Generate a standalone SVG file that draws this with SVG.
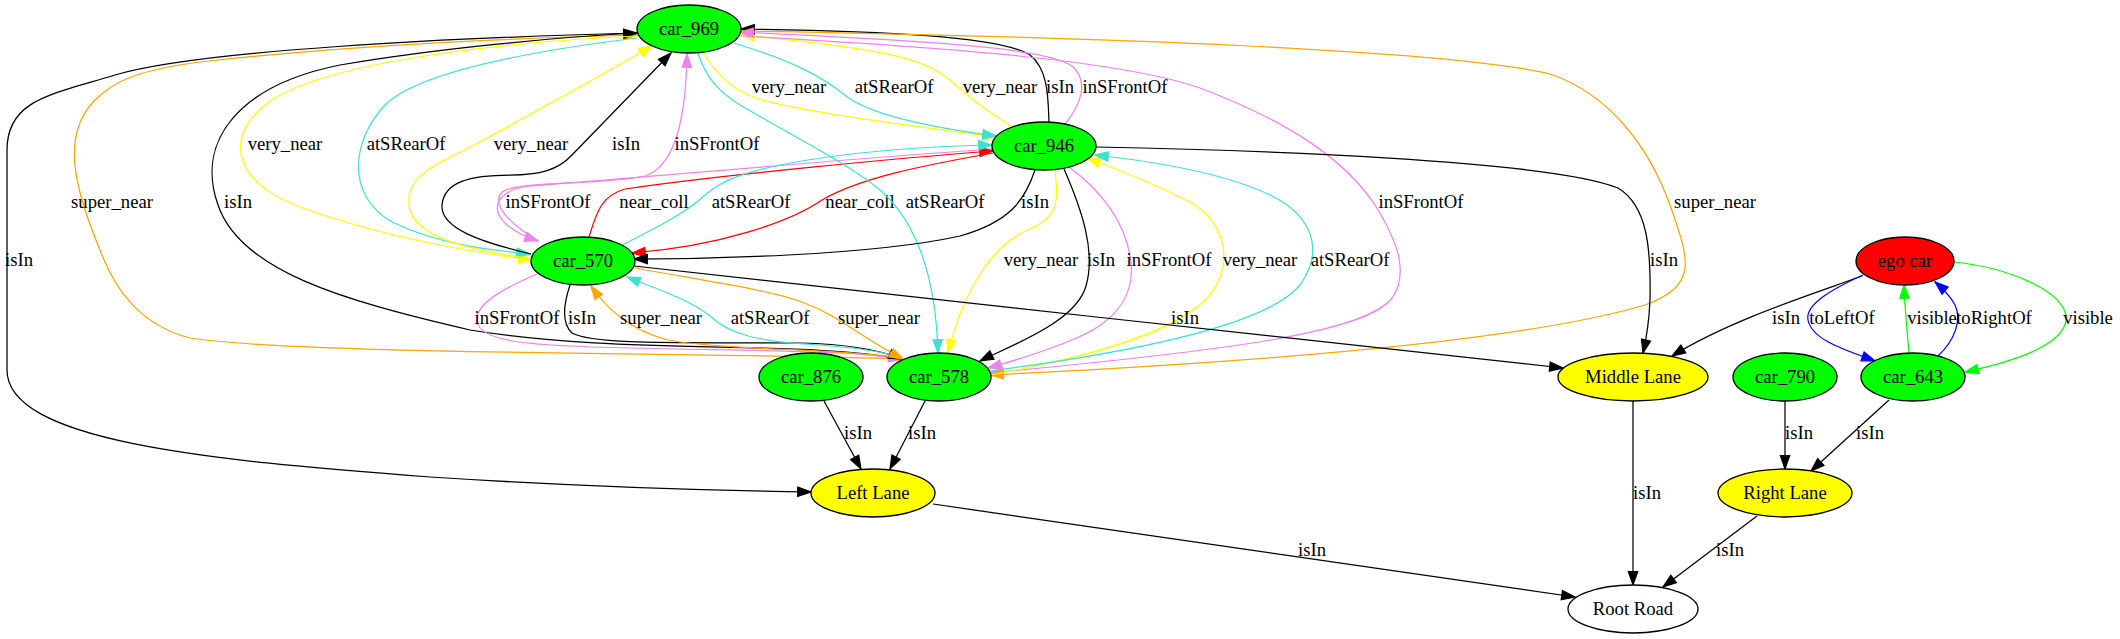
<svg xmlns="http://www.w3.org/2000/svg" width="2120" height="639" viewBox="0 0 2120 639">
<style>
.e{fill:none;stroke-width:1.25}
.k{stroke:#000}.y{stroke:#ffff00}.c{stroke:#40e0d0}.v{stroke:#ee82ee}.r{stroke:#ff0000}.o{stroke:#ffa500}.b{stroke:#0000ff}.g{stroke:#00ff00}
.k{marker-end:url(#mk)}.y{marker-end:url(#my)}.c{marker-end:url(#mc)}.v{marker-end:url(#mv)}.r{marker-end:url(#mr)}.o{marker-end:url(#mo)}.b{marker-end:url(#mb)}.g{marker-end:url(#mg)}
text{font-family:"Liberation Serif","Times New Roman",serif;font-size:18.67px;text-anchor:middle;fill:#000}
.n{stroke:#000;stroke-width:1.3}
</style>
<defs>
<marker id="mk" viewBox="0 0 14 10" refX="13.3" refY="4.67" markerWidth="14" markerHeight="10" markerUnits="userSpaceOnUse" orient="auto" overflow="visible"><path d="M0,0 L13.3,4.67 L0,9.33 z" fill="#000" stroke="#000" stroke-width="1.2"/></marker>
<marker id="my" viewBox="0 0 14 10" refX="13.3" refY="4.67" markerWidth="14" markerHeight="10" markerUnits="userSpaceOnUse" orient="auto" overflow="visible"><path d="M0,0 L13.3,4.67 L0,9.33 z" fill="#ffff00" stroke="#ffff00" stroke-width="1.2"/></marker>
<marker id="mc" viewBox="0 0 14 10" refX="13.3" refY="4.67" markerWidth="14" markerHeight="10" markerUnits="userSpaceOnUse" orient="auto" overflow="visible"><path d="M0,0 L13.3,4.67 L0,9.33 z" fill="#40e0d0" stroke="#40e0d0" stroke-width="1.2"/></marker>
<marker id="mv" viewBox="0 0 14 10" refX="13.3" refY="4.67" markerWidth="14" markerHeight="10" markerUnits="userSpaceOnUse" orient="auto" overflow="visible"><path d="M0,0 L13.3,4.67 L0,9.33 z" fill="#ee82ee" stroke="#ee82ee" stroke-width="1.2"/></marker>
<marker id="mr" viewBox="0 0 14 10" refX="13.3" refY="4.67" markerWidth="14" markerHeight="10" markerUnits="userSpaceOnUse" orient="auto" overflow="visible"><path d="M0,0 L13.3,4.67 L0,9.33 z" fill="#ff0000" stroke="#ff0000" stroke-width="1.2"/></marker>
<marker id="mo" viewBox="0 0 14 10" refX="13.3" refY="4.67" markerWidth="14" markerHeight="10" markerUnits="userSpaceOnUse" orient="auto" overflow="visible"><path d="M0,0 L13.3,4.67 L0,9.33 z" fill="#ffa500" stroke="#ffa500" stroke-width="1.2"/></marker>
<marker id="mb" viewBox="0 0 14 10" refX="13.3" refY="4.67" markerWidth="14" markerHeight="10" markerUnits="userSpaceOnUse" orient="auto" overflow="visible"><path d="M0,0 L13.3,4.67 L0,9.33 z" fill="#0000ff" stroke="#0000ff" stroke-width="1.2"/></marker>
<marker id="mg" viewBox="0 0 14 10" refX="13.3" refY="4.67" markerWidth="14" markerHeight="10" markerUnits="userSpaceOnUse" orient="auto" overflow="visible"><path d="M0,0 L13.3,4.67 L0,9.33 z" fill="#00ff00" stroke="#00ff00" stroke-width="1.2"/></marker>
</defs>
<rect width="2120" height="639" fill="#fff"/>
<g id="connectors">
<g><path class="e k" d="M637,33 C450,38 200,50 115,75 C50,95 7,100 7,150 L7,370 C7,440 200,460 430,477 C600,488 740,491 811,492"/><text x="19" y="265.5">isIn</text></g>
<g><path class="e o" d="M902,359 C700,352 300,355 190,338 C140,325 115,290 100,250 C75,190 60,135 95,100 C115,80 140,70 200,62 C350,45 520,38 637,35"/><text x="112" y="207.5">super_near</text></g>
<g><path class="e k" d="M902,359 C800,340 620,355 470,330 C340,300 240,270 218,205 C195,140 240,85 340,65 C440,48 560,37 637,33"/><text x="238" y="207.5">isIn</text></g>
<g><path class="e y" d="M637,36 C500,42 330,62 272,100 C225,132 228,180 300,207 C380,236 470,252 532,260"/><text x="285" y="150">very_near</text></g>
<g><path class="e c" d="M637,38 C540,50 420,70 385,105 C352,140 345,195 392,222 C440,245 490,250 530,254"/><text x="406" y="150">atSRearOf</text></g>
<g><path class="e y" d="M532,259 C470,250 418,238 410,210 C402,180 432,165 465,150 C520,120 590,82 652,46"/><text x="531" y="150">very_near</text></g>
<g><path class="e k" d="M531,254 C480,242 440,228 442,205 C444,182 470,175 510,175 C540,175 558,170 572,155 L671,53"/><text x="626" y="150">isIn</text></g>
<g><path class="e v" d="M538,241 C512,225 490,205 502,192 C520,180 600,186 645,176 C678,165 686,110 687,54"/><text x="717" y="150">inSFrontOf</text></g>
<g><path class="e v" d="M993,149 C830,160 640,178 530,186 C488,191 482,222 538,241"/><text x="548" y="207.5">inSFrontOf</text></g>
<g><path class="e r" d="M589,237 C596,215 600,196 625,189 C720,175 900,158 993,151"/><text x="654" y="207.5">near_coll</text></g>
<g><path class="e r" d="M993,153 C920,166 860,178 822,200 C790,222 720,246 632,253"/><text x="860" y="207.5">near_coll</text></g>
<g><path class="e c" d="M622,245 C660,226 690,210 705,195 C722,180 745,172 785,164 C860,150 940,146 992,145"/><text x="751" y="207.5">atSRearOf</text></g>
<g><path class="e y" d="M703,53 C718,76 735,92 762,100 C825,116 930,128 996,137"/><text x="789" y="92.5">very_near</text></g>
<g><path class="e c" d="M734,43 C790,60 822,76 846,96 C872,116 935,128 996,136"/><text x="894" y="92.5">atSRearOf</text></g>
<g><path class="e y" d="M1011,126 C985,110 966,95 950,80 C925,58 880,48 741,35"/><text x="1000" y="92.5">very_near</text></g>
<g><path class="e k" d="M1049,122 C1048,100 1049,70 1030,55 C1000,36 880,31 741,29"/><text x="1060" y="92.5">isIn</text></g>
<g><path class="e v" d="M1066,123 C1080,105 1090,82 1072,66 C1045,46 900,40 740,32"/><text x="1125" y="92.5">inSFrontOf</text></g>
<g><path class="e c" d="M698,53 C705,75 716,90 740,105 C800,140 850,165 880,190 C920,225 936,282 938,353"/><text x="945" y="207.5">atSRearOf</text></g>
<g><path class="e k" d="M1035,170 C1025,200 1010,222 960,236 C870,256 700,259 634,259"/><text x="1035" y="207.5">isIn</text></g>
<g><path class="e v" d="M741,36 C950,48 1120,60 1200,88 C1290,122 1345,160 1375,205 C1400,245 1408,275 1392,298 C1365,333 1230,350 990,373"/><text x="1421" y="207.5">inSFrontOf</text></g>
<g><path class="e o" d="M741,31 C1100,37 1450,50 1550,74 C1612,95 1650,150 1670,205 C1690,262 1698,285 1645,305 C1510,345 1200,365 990,375"/><text x="1715" y="207.5">super_near</text></g>
<g><path class="e y" d="M1055,170 C1058,200 1060,216 1030,229 C995,243 965,285 948,353"/><text x="1041" y="265.5">very_near</text></g>
<g><path class="e k" d="M1064,169 C1082,210 1096,252 1086,286 C1076,322 1012,345 980,361"/><text x="1101" y="265.5">isIn</text></g>
<g><path class="e v" d="M1069,167 C1100,190 1126,222 1131,262 C1135,300 1110,325 1072,340 C1040,353 1010,362 988,368"/><text x="1169" y="265.5">inSFrontOf</text></g>
<g><path class="e y" d="M990,375 C1100,355 1180,330 1210,295 C1235,262 1225,222 1190,202 C1150,182 1120,170 1087,158"/><text x="1260" y="265.5">very_near</text></g>
<g><path class="e c" d="M990,371 C1150,350 1270,322 1300,285 C1325,250 1312,215 1270,195 C1222,172 1150,161 1095,155"/><text x="1350" y="265.5">atSRearOf</text></g>
<g><path class="e k" d="M1096,147 C1250,150 1550,160 1618,188 C1648,206 1651,250 1650,300 C1649,325 1646,340 1643,353"/><text x="1664" y="265.5">isIn</text></g>
<g><path class="e v" d="M537,274 C500,290 474,305 477,322 C481,342 530,346 630,348 C760,351 860,350 902,360"/><text x="517" y="323.5">inSFrontOf</text></g>
<g><path class="e k" d="M570,285 C565,300 560,322 572,333 C595,346 700,342 800,343 C850,344 880,350 902,359"/><text x="582" y="323.5">isIn</text></g>
<g><path class="e o" d="M902,358 C850,349 720,350 668,340 C630,330 608,310 591,286"/><text x="661" y="323.5">super_near</text></g>
<g><path class="e c" d="M902,358 C885,352 860,348 820,345 C760,342 730,335 710,316 C690,300 660,290 627,277"/><text x="770" y="323.5">atSRearOf</text></g>
<g><path class="e o" d="M635,268 C700,280 770,290 802,302 C840,316 862,338 903,359"/><text x="879" y="323.5">super_near</text></g>
<g><path class="e k" d="M634,266 C900,295 1300,340 1563,368"/><text x="1185" y="323.5">isIn</text></g>
<g><path class="e k" d="M1862,276 C1810,295 1730,320 1672,356"/><text x="1786" y="323.5">isIn</text></g>
<g><path class="e b" d="M1863,275 C1830,290 1805,305 1808,320 C1812,340 1845,350 1875,361"/><text x="1842" y="323.5">toLeftOf</text></g>
<g><path class="e g" d="M1909,353 C1907,330 1905,310 1904,285"/><text x="1932" y="323.5">visible</text></g>
<g><path class="e b" d="M1938,356 C1955,340 1962,320 1955,305 C1950,295 1942,288 1935,282"/><text x="1994" y="323.5">toRightOf</text></g>
<g><path class="e g" d="M1954,262 C2010,268 2060,290 2066,315 C2070,345 2010,362 1965,372"/><text x="2088" y="323.5">visible</text></g>
<g><path class="e k" d="M824,401 L861,469"/><text x="858" y="438.5">isIn</text></g>
<g><path class="e k" d="M925,401 L890,469"/><text x="922" y="438.5">isIn</text></g>
<g><path class="e k" d="M1785,401 L1785,469"/><text x="1799" y="438.5">isIn</text></g>
<g><path class="e k" d="M1889,400 L1811,471"/><text x="1870" y="438.5">isIn</text></g>
<g><path class="e k" d="M1633,401 L1633,585"/><text x="1647" y="498.5">isIn</text></g>
<g><path class="e k" d="M933,504 L1575,597"/><text x="1312" y="555.5">isIn</text></g>
<g><path class="e k" d="M1757,516 L1663,587"/><text x="1730" y="555.5">isIn</text></g>
</g>
<g id="car_969"><ellipse class="n" cx="689" cy="29" rx="52" ry="24" fill="#00ff00"/><text x="689" y="35">car_969</text></g>
<g id="car_946"><ellipse class="n" cx="1044" cy="146" rx="52" ry="24" fill="#00ff00"/><text x="1044" y="152">car_946</text></g>
<g id="car_570"><ellipse class="n" cx="583" cy="261" rx="52" ry="24" fill="#00ff00"/><text x="583" y="267">car_570</text></g>
<g id="ego_car"><ellipse class="n" cx="1905" cy="261" rx="49" ry="24" fill="#ff0000"/><text x="1905" y="267">ego car</text></g>
<g id="car_876"><ellipse class="n" cx="811" cy="377" rx="52" ry="24" fill="#00ff00"/><text x="811" y="383">car_876</text></g>
<g id="car_578"><ellipse class="n" cx="939" cy="377" rx="52" ry="24" fill="#00ff00"/><text x="939" y="383">car_578</text></g>
<g id="middle_lane"><ellipse class="n" cx="1633" cy="377" rx="75" ry="24" fill="#ffff00"/><text x="1633" y="383">Middle Lane</text></g>
<g id="car_790"><ellipse class="n" cx="1785" cy="377" rx="52" ry="24" fill="#00ff00"/><text x="1785" y="383">car_790</text></g>
<g id="car_643"><ellipse class="n" cx="1913" cy="377" rx="52" ry="24" fill="#00ff00"/><text x="1913" y="383">car_643</text></g>
<g id="left_lane"><ellipse class="n" cx="873" cy="493" rx="62" ry="24" fill="#ffff00"/><text x="873" y="499">Left Lane</text></g>
<g id="right_lane"><ellipse class="n" cx="1785" cy="493" rx="67" ry="24" fill="#ffff00"/><text x="1785" y="499">Right Lane</text></g>
<g id="root_road"><ellipse class="n" cx="1633" cy="609" rx="65" ry="24" fill="#ffffff"/><text x="1633" y="615">Root Road</text></g>
</svg>
